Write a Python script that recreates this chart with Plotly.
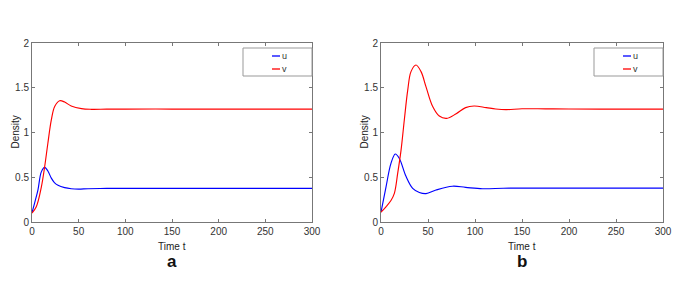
import plotly.graph_objects as go

W, H = 699, 282

# Panel a
t_a_u = [0, 3, 6.4, 10, 13.6, 17, 20.7, 24, 27.9, 35, 42, 50, 60, 80, 100, 150, 200, 250, 300]
u_a = [0.104, 0.22, 0.36, 0.56, 0.61, 0.57, 0.49, 0.44, 0.41, 0.384, 0.372, 0.368, 0.372, 0.375, 0.375, 0.375, 0.375, 0.375, 0.375]
t_a_v = [0, 4.6, 10, 13.6, 17, 20.7, 24.3, 29.6, 35, 42, 53, 63.6, 80, 100, 150, 200, 250, 300]
v_a = [0.10, 0.17, 0.39, 0.62, 0.88, 1.14, 1.29, 1.355, 1.34, 1.296, 1.266, 1.259, 1.261, 1.262, 1.262, 1.262, 1.262, 1.262]

# Panel b
t_b_u = [0, 5.3, 10.6, 15.2, 19.5, 26.6, 33.7, 40.8, 47.9, 58.5, 76, 90, 108, 130, 150, 200, 250, 300]
u_b = [0.11, 0.39, 0.655, 0.76, 0.71, 0.51, 0.376, 0.33, 0.317, 0.357, 0.40, 0.387, 0.372, 0.377, 0.378, 0.378, 0.378, 0.378]
t_b_v = [0, 5.3, 10.6, 14.2, 17.7, 21.3, 24.8, 28.4, 31.9, 37.2, 42.6, 47.9, 55, 62, 69.9, 80, 90, 99, 112, 122, 133, 150, 175, 200, 250, 300]
v_b = [0.11, 0.17, 0.24, 0.32, 0.54, 0.80, 1.14, 1.47, 1.68, 1.754, 1.68, 1.51, 1.29, 1.184, 1.158, 1.21, 1.278, 1.296, 1.278, 1.263, 1.255, 1.265, 1.264, 1.262, 1.262, 1.262]

x_ticks = [0, 50, 100, 150, 200, 250, 300]
y_ticks = [0, 0.5, 1, 1.5, 2]
y_tick_text = ["0", "0.5", "1", "1.5", "2"]
series_names = ["u", "v"]
colors = ["#0000ff", "#ff0000"]
panel_labels = ["a", "b"]

# pixel layout
panels = [(32, 312), (381, 663)]
y_top, y_bot = 43, 222

def px(x):
    return x / W

def py(y):
    return 1 - y / H

fig = go.Figure()
data = [((t_a_u, u_a), (t_a_v, v_a)), ((t_b_u, u_b), (t_b_v, v_b))]
FONT = "Liberation Sans Narrow, Arial Narrow, Liberation Sans, sans-serif"

for i, (pu, pv) in enumerate(data):
    xa = "x" if i == 0 else "x2"
    ya = "y" if i == 0 else "y2"
    for (tt, vv), name, c in zip([pu, pv], series_names, colors):
        fig.add_trace(go.Scatter(x=tt, y=vv, mode="lines", name=name,
                                 line=dict(color=c, width=1.15, shape="spline", smoothing=1.0),
                                 xaxis=xa, yaxis=ya, showlegend=False))

axis_common = dict(showgrid=False, zeroline=False, showline=True, linecolor="#777777", linewidth=1,
                   mirror="ticks", ticks="inside", ticklen=3, tickcolor="#777777", automargin=False,
                   tickfont=dict(family=FONT, size=10, color="#333333"))

layout = dict(width=W, height=H, margin=dict(l=0, r=0, t=0, b=0, pad=0, autoexpand=False),
              plot_bgcolor="white", paper_bgcolor="white", showlegend=False)
for i, (x0, x1) in enumerate(panels):
    sfx = "" if i == 0 else "2"
    layout["xaxis" + sfx] = dict(axis_common, domain=[px(x0), px(x1)], range=[0, 300],
                                 tickvals=x_ticks, anchor="y" + sfx)
    layout["yaxis" + sfx] = dict(axis_common, domain=[py(y_bot), py(y_top)], range=[0, 2],
                                 tickvals=y_ticks, ticktext=y_tick_text, anchor="x" + sfx)
fig.update_layout(**layout)

shapes = []
annotations = []

def note(x, y, text, font, **kw):
    d = dict(x=px(x), y=py(y), xref="paper", yref="paper", text=text, showarrow=False,
             xanchor="center", yanchor="middle", font=font, borderpad=0)
    d.update(kw)
    annotations.append(d)

for i, (x0, x1) in enumerate(panels):
    xc = (x0 + x1) / 2
    note(xc, 246, "Time t", dict(family=FONT, size=10, color="#222222"))
    note(xc, 261, "<b>" + panel_labels[i] + "</b>", dict(family="Liberation Sans, Arial, sans-serif", size=17, color="#111111"))
    note(x0 - 17, (y_top + y_bot) / 2, "Density", dict(family=FONT, size=10, color="#222222"), textangle=-90)
    # legend box
    lx0, lx1 = x1 - 69, x1
    ly0, ly1 = 48, 76
    shapes.append(dict(type="rect", xref="paper", yref="paper", x0=px(lx0), x1=px(lx1), y0=py(ly1), y1=py(ly0),
                       line=dict(color="#999999", width=1), fillcolor="white"))
    for k, (name, c) in enumerate(zip(series_names, colors)):
        yy = 56 + k * 13
        shapes.append(dict(type="line", xref="paper", yref="paper", x0=px(lx0 + 29), x1=px(lx0 + 37),
                           y0=py(yy), y1=py(yy), line=dict(color=c, width=1.3)))
        note(lx0 + 38, yy, name, dict(family=FONT, size=9, color="#333333"), xanchor="left")

fig.update_layout(shapes=shapes, annotations=annotations)
fig.write_html("out.html", config={"displayModeBar": False},
               post_script="document.body.style.margin='0';document.body.style.padding='0';")
